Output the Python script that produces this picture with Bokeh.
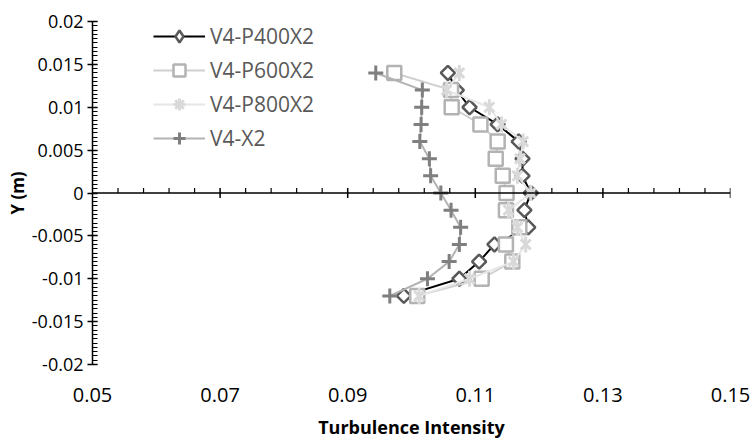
import numpy as np
from bokeh.plotting import figure
from bokeh.models import (Range1d, LinearAxis, FixedTicker, CustomJSTickFormatter,
                          Span, Legend, LegendItem)
from bokeh.embed import file_html
from bokeh.resources import INLINE

# ---------------- data ----------------
y_pos = [0.014, 0.012, 0.010, 0.008, 0.006, 0.004, 0.002, 0.0,
         -0.002, -0.004, -0.006, -0.008, -0.010, -0.012]
ti_p400 = [0.1057, 0.1071, 0.1091, 0.1135, 0.1168, 0.1174, 0.1174, 0.1187,
           0.1177, 0.1183, 0.1130, 0.1106, 0.1075, 0.0988]
ti_p600 = [0.0973, 0.1062, 0.1063, 0.1108, 0.1135, 0.1132, 0.1143, 0.1149,
           0.1148, 0.1169, 0.1148, 0.1158, 0.1110, 0.1009]
ti_p800 = [0.1075, 0.1055, 0.1122, 0.1141, 0.1175, 0.1170, 0.1166, 0.1187,
           0.1152, 0.1166, 0.1179, 0.1160, 0.1091, 0.1012]
ti_x2 = [0.0944, 0.1017, 0.1016, 0.1015, 0.1013, 0.1028, 0.1030, 0.1046,
         0.1062, 0.1077, 0.1075, 0.1059, 0.1025, 0.0966]
series_names = ["V4-P400X2", "V4-P600X2", "V4-P800X2", "V4-X2"]
x_ticks = [0.05, 0.07, 0.09, 0.11, 0.13, 0.15]
y_ticks = [0.02, 0.015, 0.01, 0.005, 0.0, -0.005, -0.01, -0.015, -0.02]
x_title = "Turbulence Intensity"
y_title = "Y (m)"

# minor tick positions (axis decoration)
x_minor = [round(v, 4) for v in np.arange(0.05, 0.1501, 0.004)
           if min(abs(v - t) for t in x_ticks) > 1e-6]
y_minor = [round(v, 5) for v in np.arange(-0.02, 0.02001, 0.0005)]

FONT = "Open Sans"

p = figure(width=752, height=441, output_backend="svg", toolbar_location=None,
           x_range=Range1d(0.05, 0.15), y_range=Range1d(-0.02, 0.02),
           x_axis_location=None, y_axis_location=None,
           min_border_left=92, min_border_right=22, min_border_top=21,
           min_border_bottom=76)
p.outline_line_color = None
p.xgrid.visible = False
p.ygrid.visible = False
p.background_fill_color = "white"
p.border_fill_color = "white"

yfmt = CustomJSTickFormatter(code="""
if (Math.abs(tick) < 1e-12) return "0";
return tick.toFixed(3).replace(/0+$/, "").replace(/\\.$/, "");
""")
xfmt = CustomJSTickFormatter(code="return tick.toFixed(2);")

yax = LinearAxis(ticker=FixedTicker(ticks=y_ticks, minor_ticks=y_minor), formatter=yfmt)
yax.axis_line_color = "black"
yax.axis_line_width = 1.5
yax.major_tick_in = 5
yax.major_tick_out = 5
yax.minor_tick_in = 5
yax.minor_tick_out = 0
yax.major_tick_line_color = "black"
yax.minor_tick_line_color = "black"
yax.major_tick_line_width = 1.5
yax.minor_tick_line_width = 1.2
yax.major_label_text_font = FONT
yax.major_label_text_font_size = "18px"
yax.major_label_text_color = "black"
yax.major_label_standoff = 4
yax.axis_label = y_title
yax.axis_label_text_font = FONT
yax.axis_label_text_font_style = "bold"
yax.axis_label_text_font_size = "17px"
yax.axis_label_text_color = "black"
yax.axis_label_standoff = 0
p.add_layout(yax, "left")

xax = LinearAxis(ticker=FixedTicker(ticks=x_ticks, minor_ticks=[]), formatter=xfmt)
xax.axis_line_color = None
xax.major_tick_line_color = None
xax.minor_tick_line_color = None
xax.major_tick_in = 0
xax.major_tick_out = 0
xax.minor_tick_in = 0
xax.minor_tick_out = 0
xax.major_label_text_font = FONT
xax.major_label_text_font_size = "20px"
xax.major_label_text_color = "black"
xax.major_label_standoff = 23
xax.axis_label = x_title
xax.axis_label_text_font = FONT
xax.axis_label_text_font_style = "bold"
xax.axis_label_text_font_size = "18px"
xax.axis_label_text_color = "black"
xax.axis_label_standoff = 10
p.add_layout(xax, "below")

# horizontal axis line crossing at y = 0
p.add_layout(Span(location=0, dimension="width", line_color="black", line_width=1.5))
xt = x_ticks[1:]
p.ray(x=xt, y=[0] * len(xt), length=5, length_units="screen", angle=np.pi / 2,
      line_color="black", line_width=1.5)
p.ray(x=xt, y=[0] * len(xt), length=5, length_units="screen", angle=-np.pi / 2,
      line_color="black", line_width=1.5)
p.ray(x=x_minor, y=[0] * len(x_minor), length=5, length_units="screen", angle=np.pi / 2,
      line_color="black", line_width=1.2)

# ---------------- series ----------------
l1 = p.line(ti_p400, y_pos, line_color="black", line_width=2)
# legend proxy (legend glyphs ignore marker angle); zero size in the plot
pr1 = p.scatter(ti_p400, y_pos, marker="diamond", size=0,
                line_color="#595959", line_width=2.5, fill_color="white")
m1 = p.scatter(ti_p400, y_pos, marker="square", angle=np.pi / 4, size=10,
               line_color="#595959", line_width=2.5, fill_color="white")

l2 = p.line(ti_p600, y_pos, line_color="#cfcfcf", line_width=2)
m2 = p.scatter(ti_p600, y_pos, marker="square", size=14,
               line_color="#b3b3b3", line_width=2.5, fill_color="white")

l3 = p.line(ti_p800, y_pos, line_color="#e6e6e6", line_width=2)
pr3 = p.scatter(ti_p800, y_pos, marker="asterisk", size=0,
                line_color="#d9d9d9", line_width=3)
m3a = p.scatter(ti_p800, y_pos, marker="x", size=14, line_color="#d9d9d9", line_width=3)
m3b = p.scatter(ti_p800, y_pos, marker="dash", angle=np.pi / 2, size=16,
                line_color="#d9d9d9", line_width=3)

l4 = p.line(ti_x2, y_pos, line_color="#b3b3b3", line_width=2)
m4 = p.scatter(ti_x2, y_pos, marker="cross", size=15, line_color="#7f7f7f", line_width=3)

legend = Legend(items=[
    LegendItem(label=series_names[0], renderers=[l1, pr1]),
    LegendItem(label=series_names[1], renderers=[l2, m2]),
    LegendItem(label=series_names[2], renderers=[l3, pr3]),
    LegendItem(label=series_names[3], renderers=[l4, m4]),
], location=(61, 211))
legend.glyph_width = 52
legend.glyph_height = 30
legend.label_height = 30
legend.spacing = 4
legend.padding = 0
legend.margin = 0
legend.label_standoff = 5
legend.border_line_color = None
legend.background_fill_alpha = 0
legend.label_text_font = FONT
legend.label_text_font_size = "21px"
legend.label_text_color = "#595959"
p.add_layout(legend)

open("out.html", "w").write(file_html(p, INLINE))
